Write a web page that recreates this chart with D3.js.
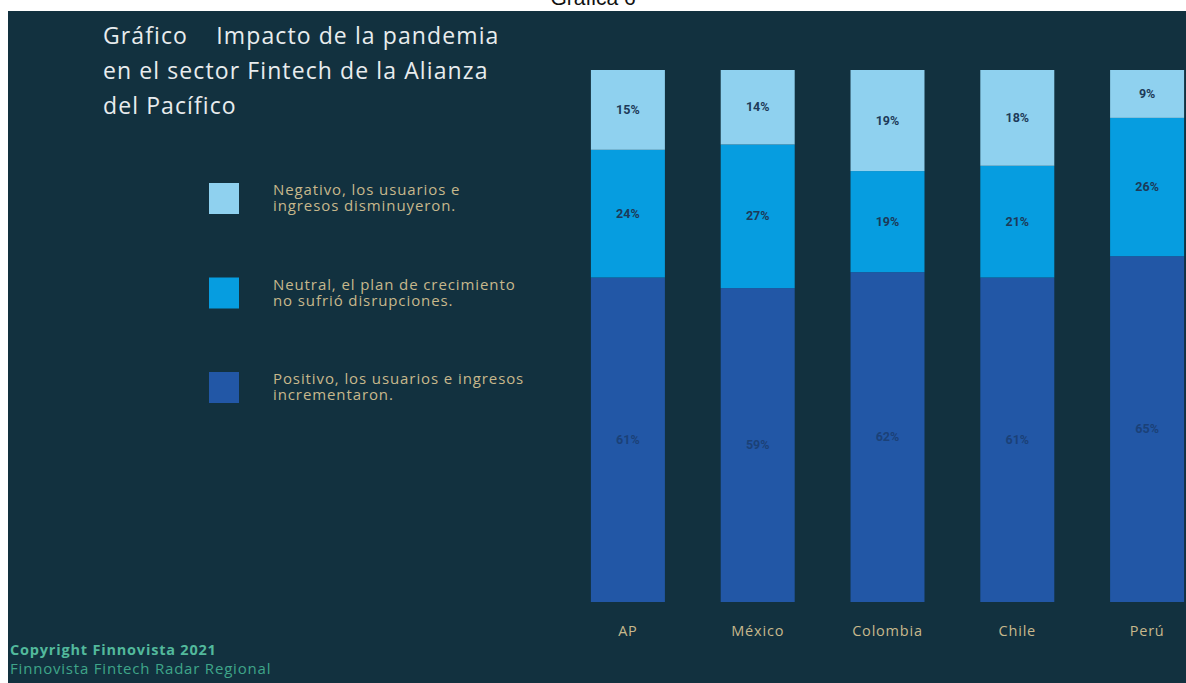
<!DOCTYPE html>
<html>
<head>
<meta charset="utf-8">
<script src="https://cdn.jsdelivr.net/npm/d3@7"></script>
<style>
  html, body { margin: 0; padding: 0; background: #ffffff; }
  svg { display: block; }
</style>
</head>
<body>
<script>
// Gráfica 6 - Impacto de la pandemia en el sector Fintech

// Data
const categories = ['AP', 'México', 'Colombia', 'Chile', 'Perú'];
const positivo = [61, 59, 62, 61, 65];
const neutral = [24, 27, 19, 21, 26];
const negativo = [15, 14, 19, 18, 9];

const seriesKeys = ['positivo', 'neutral', 'negativo'];
const seriesColors = { positivo: '#2257a6', neutral: '#069de0', negativo: '#8fd1ef' };
const legendLabels = [
  ['Negativo, los usuarios e', 'ingresos disminuyeron.'],
  ['Neutral, el plan de crecimiento', 'no sufrió disrupciones.'],
  ['Positivo, los usuarios e ingresos', 'incrementaron.']
];
const legendKeys = ['negativo', 'neutral', 'positivo'];

const width = 1186, height = 683;
const bg = '#12313f';
const tan = '#c7b88c';
const font = '"Open Sans", Lato, sans-serif';

const svg = d3.select('body').append('svg')
  .attr('width', width)
  .attr('height', height);

// page heading, mostly cut off at the top
svg.append('text')
  .attr('x', 593).attr('y', 5)
  .attr('text-anchor', 'middle')
  .attr('font-family', 'Liberation Sans, Arial, sans-serif')
  .attr('font-size', 21)
  .attr('fill', '#111')
  .text('Gráfica 6');

svg.append('rect')
  .attr('x', 8).attr('y', 11)
  .attr('width', width - 8).attr('height', height - 11)
  .attr('fill', bg);

// title
const titleLines = ['Gráfico    Impacto de la pandemia', 'en el sector Fintech de la Alianza', 'del Pacífico'];
svg.append('g').selectAll('text')
  .data(titleLines)
  .enter()
  .append('text')
  .attr('x', 103)
  .attr('y', (d, i) => 44 + i * 35)
  .attr('font-family', font)
  .attr('font-size', 23)
  .attr('letter-spacing', 1.1)
  .attr('fill', '#e8ecee')
  .style('white-space', 'pre')
  .text(d => d);

// stacked data
const rows = categories.map((c, i) => ({
  cat: c, positivo: positivo[i], neutral: neutral[i], negativo: negativo[i]
}));
const stacked = d3.stack().keys(seriesKeys)(rows);

const x = d3.scaleBand()
  .domain(categories)
  .range([563, 1212])
  .paddingInner(0.43)
  .paddingOuter(0.215);

const y = d3.scaleLinear()
  .domain([0, 100])
  .range([602, 70]);

const layers = svg.append('g').selectAll('g')
  .data(stacked)
  .enter()
  .append('g')
  .attr('fill', d => seriesColors[d.key]);

layers.selectAll('rect')
  .data(d => d)
  .enter()
  .append('rect')
  .attr('x', d => x(d.data.cat))
  .attr('y', d => y(d[1]))
  .attr('width', x.bandwidth())
  .attr('height', d => y(d[0]) - y(d[1]));

// value labels
const labelGroups = svg.append('g').selectAll('g')
  .data(stacked)
  .enter()
  .append('g')
  .attr('fill', d => d.key === 'positivo' ? '#1b4178' : '#1d3a58');

labelGroups.selectAll('text')
  .data(d => d)
  .enter()
  .append('text')
  .attr('x', d => x(d.data.cat) + x.bandwidth() / 2)
  .attr('y', d => (y(d[0]) + y(d[1])) / 2 + 4)
  .attr('text-anchor', 'middle')
  .attr('font-family', 'Roboto, sans-serif')
  .attr('font-weight', 'bold')
  .attr('font-size', 12.5)
  .text(d => (d[1] - d[0]) + '%');

// category axis
const xAxis = svg.append('g')
  .attr('transform', 'translate(0,602)')
  .call(d3.axisBottom(x).tickSize(0).tickPadding(24));
xAxis.select('.domain').remove();
xAxis.selectAll('text')
  .attr('font-family', font)
  .attr('font-size', 14.5)
  .attr('letter-spacing', 0.8)
  .attr('fill', tan);

// legend
const legend = svg.append('g').selectAll('g')
  .data(legendKeys)
  .enter()
  .append('g')
  .attr('transform', (d, i) => `translate(209,${183 + i * 94.5})`);

legend.append('rect')
  .attr('width', 30)
  .attr('height', 31)
  .attr('fill', d => seriesColors[d]);

legend.each(function(d, i) {
  const t = d3.select(this).append('text')
    .attr('font-family', font)
    .attr('font-size', 15)
    .attr('letter-spacing', 0.9)
    .attr('fill', tan);
  legendLabels[i].forEach((line, j) => {
    t.append('tspan')
      .attr('x', 64)
      .attr('y', 12 + j * 16)
      .text(line);
  });
});

// footer
svg.append('text')
  .attr('x', 10).attr('y', 655)
  .attr('font-family', font)
  .attr('font-weight', 'bold')
  .attr('font-size', 14.5)
  .attr('letter-spacing', 0.8)
  .attr('fill', '#52b99c')
  .text('Copyright Finnovista 2021');

svg.append('text')
  .attr('x', 10).attr('y', 674)
  .attr('font-family', font)
  .attr('font-size', 15)
  .attr('letter-spacing', 0.8)
  .attr('fill', '#3fa589')
  .text('Finnovista Fintech Radar Regional');
</script>
</body>
</html>
